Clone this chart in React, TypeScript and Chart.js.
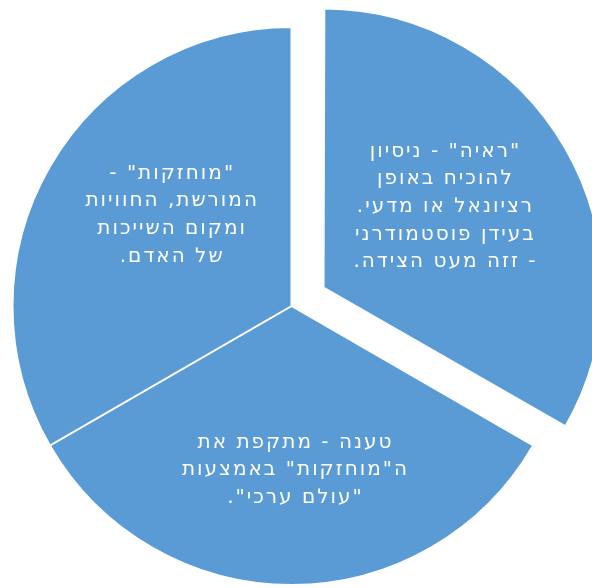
import React, { useEffect, useRef } from "react";
import { Chart, registerables } from "chart.js";

Chart.register(...registerables);

const categories = ["ראיה", "טענה", "מוחזקות"];
const values = [1, 1, 1];
const explode = [148, 0, 0];
const labelLines: string[][] = [
  ['"ראיה" - ניסיון', "להוכיח באופן", "רציונאל או מדעי.", "בעידן פוסטמודרני", "- זזה מעט הצידה."],
  ["טענה - מתקפת את", 'ה"מוחזקות" באמצעות', '"עולם ערכי".'],
  ['"מוחזקות" -', "המורשת, החוויות", "ומקום השייכות", "של האדם."],
];

const labelPlugin = {
  id: "sliceLabels",
  afterDatasetsUpdate(chart: any) {
    const meta = chart.getDatasetMeta(0);
    meta.data.forEach((arc: any, i: number) => {
      const off = (explode[i] || 0) / 4;
      const fix = 1 - Math.sin(Math.min(Math.PI, arc.circumference || 0));
      arc.outerRadius = arc.outerRadius - off * fix;
    });
  },
  afterDatasetsDraw(chart: any, _args: any, opts: any) {
    const ctx = chart.ctx;
    const meta = chart.getDatasetMeta(0);
    ctx.save();
    ctx.fillStyle = "#ffffff";
    ctx.font = opts.font;
    (ctx as any).letterSpacing = opts.letterSpacing;
    ctx.textAlign = "center";
    ctx.textBaseline = "middle";
    (ctx as any).direction = "rtl";
    meta.data.forEach((arc: any, i: number) => {
      const half = (arc.startAngle + arc.endAngle) / 2;
      const off = (explode[i] || 0) / 4;
      const r = arc.outerRadius * opts.fraction + off;
      const n = opts.nudge[i] || [0, 0];
      const cx = arc.x + Math.cos(half) * r + n[0];
      const cy = arc.y + Math.sin(half) * r + n[1];
      const lines = labelLines[i];
      const lh = opts.lineHeight;
      const top = cy - ((lines.length - 1) * lh) / 2;
      lines.forEach((line, k) => {
        ctx.fillText(line, cx, top + k * lh);
      });
    });
    ctx.restore();
  },
};

export default function App() {
  const ref = useRef<HTMLCanvasElement>(null);
  useEffect(() => {
    if (!ref.current) return;
    const chart = new Chart(ref.current, {
      type: "pie",
      data: {
        labels: categories,
        datasets: [
          {
            data: values,
            backgroundColor: "#5B9BD5",
            borderColor: "#ffffff",
            borderWidth: 2,
            offset: explode,
            clip: false as any,
          } as any,
        ],
      },
      options: {
        responsive: false,
        animation: false,
        radius: 279,
        layout: { padding: { left: 0, right: 9, top: 24, bottom: 0 } },
        plugins: {
          legend: { display: false },
          tooltip: { enabled: false },
          sliceLabels: {
            font: '20px "DejaVu Sans"',
            letterSpacing: "2px",
            lineHeight: 27.7,
            fraction: 0.56,
            nudge: [
              [-11, -4],
              [4, 8],
              [16, -13],
            ],
          },
        } as any,
      } as any,
      plugins: [labelPlugin],
    });
    return () => chart.destroy();
  }, []);
  return (
    <div style={{ position: "fixed", left: 0, top: 0, width: 592, height: 588, background: "#fff" }}>
      <canvas ref={ref} width={592} height={588} />
    </div>
  );
}
